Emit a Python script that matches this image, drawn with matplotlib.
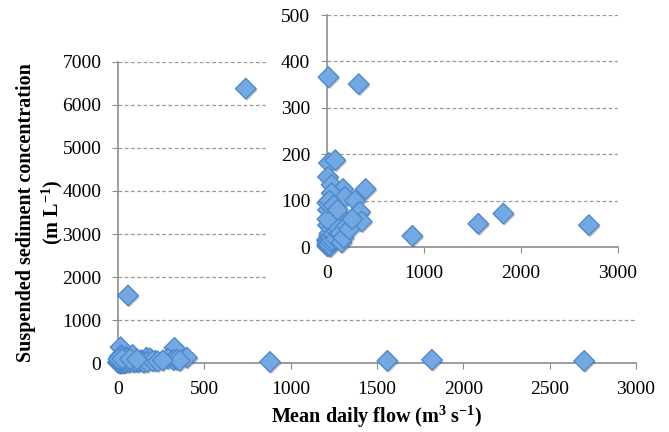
import matplotlib
matplotlib.use("Agg")
import matplotlib.pyplot as plt
import matplotlib.patheffects as pe
from matplotlib.patches import Rectangle
import numpy as np

# mean daily flow (m3/s) and suspended sediment concentration
flow = [740, 58,
        15, 327, 20, 85, 10, 48, 165, 399, 48, 186, 289, 10, 320, 134, 340,
        357, 216, 10, 62, 0, 31, 113, 880, 1560, 1818, 2700,
        2, 4, 6, 8, 12, 14, 18, 22, 25, 28, 35, 40, 45, 55, 65, 75, 90,
        100, 120, 140, 150, 170, 200, 230, 260, 5, 3, 25, 70, 110]
conc = [6380, 1570,
        366, 351, 181, 187, 151, 134, 125, 125, 116, 108, 100, 80, 73, 65, 76,
        55, 51, 47, 33, 15, 1, 22, 24, 50, 72, 47,
        2, 6, 10, 4, 8, 18, 12, 25, 5, 30, 12, 20, 40, 15, 28, 45, 18,
        35, 40, 30, 10, 20, 45, 38, 60, 60, 95, 100, 90, 80]

main_yticks = [0, 1000, 2000, 3000, 4000, 5000, 6000, 7000]
main_xticks = [0, 500, 1000, 1500, 2000, 2500, 3000]
inset_yticks = [0, 100, 200, 300, 400, 500]
inset_xticks = [0, 1000, 2000, 3000]

face = "#72a9e2"
edge = "#5089cb"
grid_col = "#9a9a9a"
axis_col = "#8c8c8c"

plt.rcParams["font.family"] = ["Liberation Serif", "DejaVu Serif"]
plt.rcParams["mathtext.fontset"] = "custom"
plt.rcParams["mathtext.rm"] = "Liberation Serif:bold"
plt.rcParams["mathtext.default"] = "rm"

fig = plt.figure(figsize=(6.69, 4.32), dpi=100)
shadow = [pe.SimplePatchShadow(offset=(1.0, -1.2), alpha=0.3), pe.Normal()]


def style_axes(ax, xticks, yticks, size):
    ax.set_xticks(xticks)
    ax.set_yticks(yticks)
    ax.set_xticklabels([str(t) for t in xticks], fontsize=size)
    ax.set_yticklabels([str(t) for t in yticks], fontsize=size)
    for s in ("top", "right"):
        ax.spines[s].set_visible(False)
    for s in ("left", "bottom"):
        ax.spines[s].set_color(axis_col)
        ax.spines[s].set_linewidth(1.2)
    ax.tick_params(axis="x", direction="out", length=4, color=axis_col, pad=9)
    ax.tick_params(axis="y", direction="out", length=4, color=axis_col, pad=8)
    ax.yaxis.grid(True, linestyle=(0, (3, 2)), color=grid_col, linewidth=0.9)
    ax.set_axisbelow(True)


# main chart
ax = fig.add_axes([0.1764, 0.1597, 0.7743, 0.6968])
ax.scatter(flow, conc, marker="D", s=110, c=face, edgecolors=edge,
           linewidths=1.0, clip_on=False, zorder=3, path_effects=shadow)
ax.set_xlim(0, 3000)
ax.set_ylim(0, 7000)
style_axes(ax, main_xticks, main_yticks, 14)
ax.set_xlabel(r"Mean daily flow (m$^{3}$ s$^{-1}$)", fontsize=14.5,
              fontweight="bold", labelpad=4)
ax.set_ylabel("Suspended sediment concentration\n" + r"(m L$^{-1}$)",
              fontsize=14.5, fontweight="bold", labelpad=-2, linespacing=1.2)

# white panel behind the inset chart
fig.patches.append(Rectangle((0.4006, 0.324), 0.6, 0.7, transform=fig.transFigure,
                             facecolor="white", edgecolor="none", zorder=1))

# inset: low concentration range
fx = np.array(flow)
cy = np.array(conc)
keep = cy <= 500
ins = fig.add_axes([0.4888, 0.4282, 0.435, 0.537], zorder=2)
ins.scatter(fx[keep], cy[keep], marker="D", s=110, c=face, edgecolors=edge,
            linewidths=1.0, clip_on=False, zorder=3, path_effects=shadow)
ins.set_xlim(0, 3000)
ins.set_ylim(0, 500)
style_axes(ins, inset_xticks, inset_yticks, 14)

fig.savefig("out.png", dpi=100)
